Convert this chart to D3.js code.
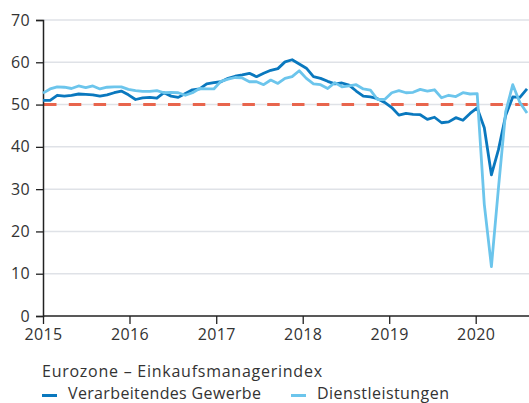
<!DOCTYPE html>
<html>
<head>
<meta charset="utf-8">
<script src="https://cdn.jsdelivr.net/npm/d3@7"></script>
<style>
  body { margin: 0; background: #fff; }
  svg { display: block; }
</style>
</head>
<body>
<div id="chart"></div>
<script>
// Eurozone PMI, monthly Jan 2015 - Sep 2020
var manufacturing = [
    51.0, 51.0, 52.2, 52.0, 52.2, 52.5, 52.4, 52.3, 52.0, 52.3, 52.8, 53.2,
    52.3, 51.2, 51.6, 51.7, 51.5, 52.8, 52.0, 51.7, 52.6, 53.5, 53.7, 54.9,
    55.2, 55.4, 56.2, 56.7, 57.0, 57.4, 56.6, 57.4, 58.1, 58.5, 60.1, 60.6,
    59.6, 58.6, 56.6, 56.2, 55.5, 54.9, 55.1, 54.6, 53.2, 52.0, 51.8, 51.4,
    50.5, 49.3, 47.5, 47.9, 47.7, 47.6, 46.5, 47.0, 45.7, 45.9, 46.9, 46.3,
    47.9, 49.2, 44.5, 33.4, 39.4, 47.4, 51.8, 51.7, 53.7
];
var services = [
    52.7, 53.7, 54.2, 54.1, 53.8, 54.4, 54.0, 54.4, 53.7, 54.1, 54.2, 54.2,
    53.6, 53.3, 53.1, 53.1, 53.3, 52.8, 52.9, 52.8, 52.2, 52.8, 53.8, 53.7,
    53.7, 55.5, 56.0, 56.4, 56.3, 55.4, 55.4, 54.7, 55.8, 55.0, 56.2, 56.6,
    58.0, 56.2, 54.9, 54.7, 53.8, 55.2, 54.2, 54.4, 54.7, 53.7, 53.4, 51.2,
    51.2, 52.8, 53.3, 52.8, 52.9, 53.6, 53.2, 53.5, 51.6, 52.2, 51.9, 52.8,
    52.5, 52.6, 26.4, 11.7, 30.5, 48.3, 54.7, 50.5, 48.0
];
var yearTicks = [2015, 2016, 2017, 2018, 2019, 2020];
var yTicks = [0, 10, 20, 30, 40, 50, 60, 70];
var threshold = 50;
var title = "Eurozone \u2013 Einkaufsmanagerindex";
var seriesNames = ["Verarbeitendes Gewerbe", "Dienstleistungen"];
var colors = ["#0a78be", "#6cc5ec"];

var width = 529, height = 403,
    margins = {top: 20, right: 2, bottom: 87, left: 43},
    font = "'Open Sans', sans-serif",
    textColor = "#333";

var svg = d3.select("#chart").append("svg")
    .attr("width", width)
    .attr("height", height)
    .style("font-family", font);

var y = d3.scaleLinear().domain([0, 70]).range([height - margins.bottom, margins.top]);

// points are spaced by month index
var x = d3.scaleLinear()
    .domain([0, manufacturing.length - 1])
    .range([margins.left, width - margins.right]);

// year ticks on a time axis
var xTime = d3.scaleTime()
    .domain([new Date(2015, 0, 1), new Date(2020, 0, 1)])
    .range([margins.left, 475.7]);

// grid
svg.append("g").selectAll("line")
    .data(yTicks.filter(function(d) { return d > 0; }))
    .enter().append("line")
    .attr("x1", margins.left).attr("x2", width)
    .attr("y1", function(d) { return y(d); })
    .attr("y2", function(d) { return y(d); })
    .attr("stroke", "#dfe2e7")
    .attr("stroke-width", 1.5);

// 50 line
svg.append("line")
    .attr("x1", margins.left + 1).attr("x2", width)
    .attr("y1", y(threshold)).attr("y2", y(threshold))
    .attr("stroke", "#e8654d")
    .attr("stroke-width", 3)
    .attr("stroke-dasharray", "12.5,12.3");

// axes
var yAxis = svg.append("g")
    .attr("transform", "translate(" + margins.left + ",0)")
    .call(d3.axisLeft(y).tickValues(yTicks).tickSize(7).tickPadding(6));
yAxis.select(".domain").attr("stroke", "#222").attr("stroke-width", 1.5);
yAxis.selectAll(".tick line").attr("stroke", "#222").attr("stroke-width", 1.3);

var xAxis = svg.append("g")
    .attr("transform", "translate(0," + y(0) + ")")
    .call(d3.axisBottom(xTime)
        .tickValues(yearTicks.map(function(d) { return new Date(d, 0, 1); }))
        .tickFormat(d3.timeFormat("%Y"))
        .tickSize(8).tickPadding(5).tickSizeOuter(0));
xAxis.select(".domain").attr("d", "M" + margins.left + ",0H" + width)
    .attr("stroke", "#222").attr("stroke-width", 1.5);
xAxis.selectAll(".tick line").attr("stroke", "#222").attr("stroke-width", 1.3);

[yAxis, xAxis].forEach(function(a) {
    a.attr("font-family", font).attr("font-size", 16);
    a.selectAll(".tick text").attr("fill", textColor).style("letter-spacing", "0.4px");
});

var line = d3.line()
    .x(function(d, i) { return x(i); })
    .y(function(d) { return y(d); });

[manufacturing, services].forEach(function(s, k) {
    svg.append("path")
        .datum(s)
        .attr("fill", "none")
        .attr("stroke", colors[k])
        .attr("stroke-width", 2.8)
        .attr("stroke-linejoin", "round")
        .attr("d", line);
});

// title + legend
svg.append("text")
    .attr("x", 42).attr("y", 377)
    .attr("font-size", 16)
    .attr("fill", textColor)
    .attr("textLength", 280)
    .attr("lengthAdjust", "spacing")
    .text(title);

var legendWidths = [193, 132];
var lx = 42;
seriesNames.forEach(function(name, k) {
    var g = svg.append("g");
    g.append("line")
        .attr("x1", lx).attr("x2", lx + 15)
        .attr("y1", 395.5).attr("y2", 395.5)
        .attr("stroke", colors[k]).attr("stroke-width", 3);
    g.append("text")
        .attr("x", lx + 26).attr("y", 399)
        .attr("font-size", 16)
        .attr("fill", textColor)
        .attr("textLength", legendWidths[k])
        .attr("lengthAdjust", "spacing")
        .text(name);
    lx += 26 + legendWidths[k] + 30;
});
</script>
</body>
</html>
